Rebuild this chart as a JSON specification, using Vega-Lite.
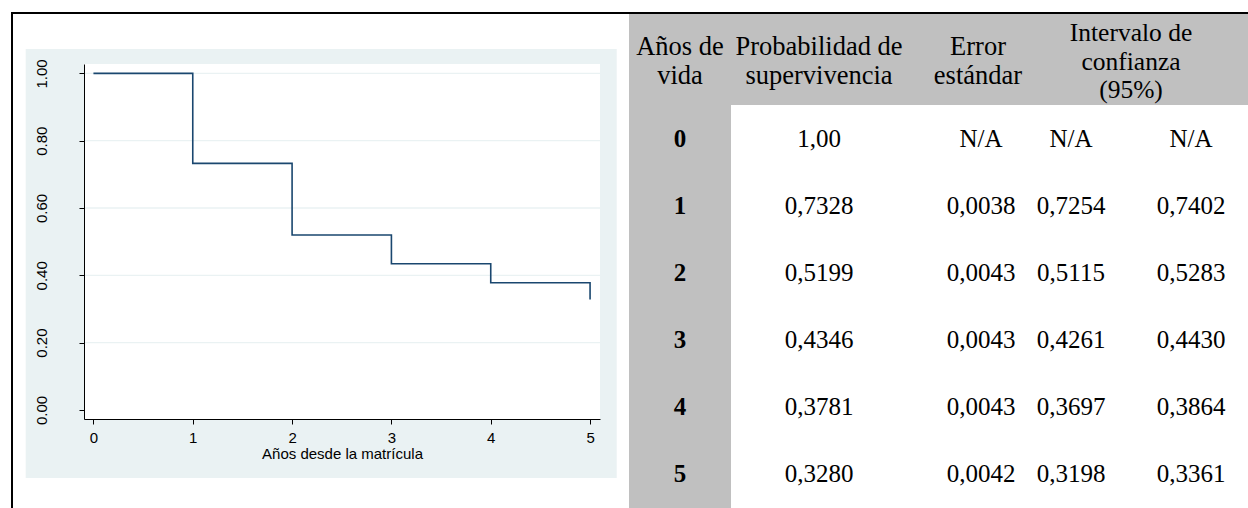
{
  "$schema": "https://vega.github.io/schema/vega-lite/v6.json",
  "background": "white",
  "padding": {"left": 11, "top": 12, "right": 0, "bottom": 0},
  "config": {"view": {"stroke": null}},
  "datasets": {
    "km": [
      {"anio": 0, "surv": 1.0, "prob": "1,00", "se": "N/A", "lo": "N/A", "hi": "N/A"},
      {"anio": 1, "surv": 0.7328, "prob": "0,7328", "se": "0,0038", "lo": "0,7254", "hi": "0,7402"},
      {"anio": 2, "surv": 0.5199, "prob": "0,5199", "se": "0,0043", "lo": "0,5115", "hi": "0,5283"},
      {"anio": 3, "surv": 0.4346, "prob": "0,4346", "se": "0,0043", "lo": "0,4261", "hi": "0,4430"},
      {"anio": 4, "surv": 0.3781, "prob": "0,3781", "se": "0,0043", "lo": "0,3697", "hi": "0,3864"},
      {"anio": 5, "surv": 0.3280, "prob": "0,3280", "se": "0,0042", "lo": "0,3198", "hi": "0,3361"}
    ],
    "cabecera": [
      {"col": 0, "titulo": "Años de\nvida"},
      {"col": 1, "titulo": "Probabilidad de\nsupervivencia"},
      {"col": 2, "titulo": "Error\nestándar"},
      {"col": 3, "titulo": "Intervalo de\nconfianza\n(95%)"}
    ],
    "rejilla": [{"v": 0.2}, {"v": 0.4}, {"v": 0.6}, {"v": 0.8}, {"v": 1.0}],
    "vacio": [{}]
  },
  "spacing": 0,
  "vconcat": [
    {
      "width": 1237, "height": 2,
      "data": {"name": "vacio"},
      "mark": {"type": "rect", "color": "black"}
    },
    {
      "spacing": 12,
      "hconcat": [
        {
          "width": 2, "height": 494,
          "data": {"name": "vacio"},
          "mark": {"type": "rect", "color": "black"}
        },
        {
          "spacing": 0,
          "vconcat": [
            {
              "width": 516, "height": 34,
              "data": {"values": []},
              "mark": "rect"
            },
            {
              "width": 516, "height": 355,
              "layer": [
                {
                  "data": {"name": "vacio"},
                  "mark": {"type": "rect", "color": "#EAF2F3"},
                  "encoding": {
                    "x": {"datum": -0.682, "type": "quantitative", "scale": {"domain": [-0.095, 5.1], "nice": false, "zero": false}},
                    "x2": {"datum": 5.2683},
                    "y": {"datum": -0.2024, "type": "quantitative", "scale": {"domain": [-0.027, 1.028], "nice": false, "zero": false}},
                    "y2": {"datum": 1.0726}
                  }
                },
                {
                  "data": {"name": "vacio"},
                  "mark": {"type": "rect", "color": "white"}
                },
                {
                  "data": {"name": "rejilla"},
                  "mark": {"type": "rule", "color": "#EAF2F3", "strokeWidth": 1.3},
                  "encoding": {
                    "y": {"field": "v", "type": "quantitative", "scale": {"domain": [-0.027, 1.028], "nice": false, "zero": false}}
                  }
                },
                {
                  "data": {"name": "km"},
                  "mark": {"type": "line", "interpolate": "step-after", "color": "#1A476F", "strokeWidth": 1.6},
                  "encoding": {
                    "x": {
                      "field": "anio", "type": "quantitative",
                      "scale": {"domain": [-0.095, 5.1], "nice": false, "zero": false},
                      "axis": {
                        "values": [0, 1, 2, 3, 4, 5], "format": "d",
                        "title": "Años desde la matrícula",
                        "grid": false, "zindex": 1,
                        "domainColor": "black", "domainWidth": 1,
                        "tickColor": "black", "tickSize": 5, "tickWidth": 1,
                        "labelPadding": 6, "labelFont": "Liberation Sans", "labelFontSize": 15, "labelColor": "black",
                        "labelFlush": false, "labelOverlap": false,
                        "titleFont": "Liberation Sans", "titleFontSize": 15, "titleFontWeight": "normal", "titleColor": "black",
                        "titlePadding": 1
                      }
                    },
                    "y": {
                      "field": "surv", "type": "quantitative",
                      "scale": {"domain": [-0.027, 1.028], "nice": false, "zero": false},
                      "axis": {
                        "values": [0, 0.2, 0.4, 0.6, 0.8, 1], "format": ".2f",
                        "title": null,
                        "grid": false, "zindex": 1,
                        "domainColor": "black", "domainWidth": 1,
                        "tickColor": "black", "tickSize": 5, "tickWidth": 1,
                        "labelAngle": -90, "labelAlign": "center", "labelBaseline": "alphabetic",
                        "labelPadding": 33, "labelFont": "Liberation Sans", "labelFontSize": 15, "labelColor": "black",
                        "labelFlush": false, "labelOverlap": false
                      }
                    }
                  }
                }
              ]
            }
          ]
        },
        {
          "spacing": 0,
          "vconcat": [
            {
              "width": 620, "height": 91,
              "view": {"fill": "#C0C0C0"},
              "data": {"name": "cabecera"},
              "encoding": {
                "x": {"field": "col", "type": "quantitative", "scale": {"domain": [0, 1, 2, 3], "range": [51, 190, 349, 502], "nice": false, "zero": false}, "axis": null},
                "text": {"field": "titulo"}
              },
              "layer": [
                {
                  "transform": [{"filter": "datum.col < 3"}],
                  "mark": {"type": "text", "font": "Liberation Serif", "fontSize": 26.5, "lineBreak": "\n", "lineHeight": 29.5, "baseline": "middle", "align": "center", "color": "black", "dy": -13}
                },
                {
                  "transform": [{"filter": "datum.col == 3"}],
                  "mark": {"type": "text", "font": "Liberation Serif", "fontSize": 25.5, "lineBreak": "\n", "lineHeight": 28.5, "baseline": "middle", "align": "center", "color": "black", "dy": -26.5}
                }
              ]
            },
            {
              "spacing": 0,
              "hconcat": [
                {
                  "width": 102, "height": 403,
                  "view": {"fill": "#C0C0C0"},
                  "data": {"name": "km"},
                  "mark": {"type": "text", "font": "Liberation Serif", "fontSize": 25, "fontWeight": "bold", "baseline": "middle", "align": "center", "color": "black"},
                  "encoding": {
                    "y": {"field": "anio", "type": "ordinal", "scale": {"type": "band", "paddingInner": 0, "paddingOuter": 0}, "axis": null},
                    "text": {"field": "anio"}
                  }
                },
                {
                  "width": 518, "height": 403,
                  "view": {"fill": "white"},
                  "data": {"name": "km"},
                  "encoding": {
                    "y": {"field": "anio", "type": "ordinal", "scale": {"type": "band", "paddingInner": 0, "paddingOuter": 0}, "axis": null}
                  },
                  "layer": [
                    {
                      "mark": {"type": "text", "font": "Liberation Serif", "fontSize": 25, "baseline": "middle", "align": "center", "color": "black"},
                      "encoding": {
                        "x": {"datum": 1, "type": "quantitative", "scale": {"domain": [1, 2, 3, 4], "range": [88, 250, 340, 460], "nice": false, "zero": false}, "axis": null},
                        "text": {"field": "prob"}
                      }
                    },
                    {
                      "mark": {"type": "text", "font": "Liberation Serif", "fontSize": 25, "baseline": "middle", "align": "center", "color": "black"},
                      "encoding": {
                        "x": {"datum": 2, "type": "quantitative", "scale": {"domain": [1, 2, 3, 4], "range": [88, 250, 340, 460], "nice": false, "zero": false}, "axis": null},
                        "text": {"field": "se"}
                      }
                    },
                    {
                      "mark": {"type": "text", "font": "Liberation Serif", "fontSize": 25, "baseline": "middle", "align": "center", "color": "black"},
                      "encoding": {
                        "x": {"datum": 3, "type": "quantitative", "scale": {"domain": [1, 2, 3, 4], "range": [88, 250, 340, 460], "nice": false, "zero": false}, "axis": null},
                        "text": {"field": "lo"}
                      }
                    },
                    {
                      "mark": {"type": "text", "font": "Liberation Serif", "fontSize": 25, "baseline": "middle", "align": "center", "color": "black"},
                      "encoding": {
                        "x": {"datum": 4, "type": "quantitative", "scale": {"domain": [1, 2, 3, 4], "range": [88, 250, 340, 460], "nice": false, "zero": false}, "axis": null},
                        "text": {"field": "hi"}
                      }
                    }
                  ]
                }
              ]
            }
          ]
        }
      ]
    }
  ]
}
